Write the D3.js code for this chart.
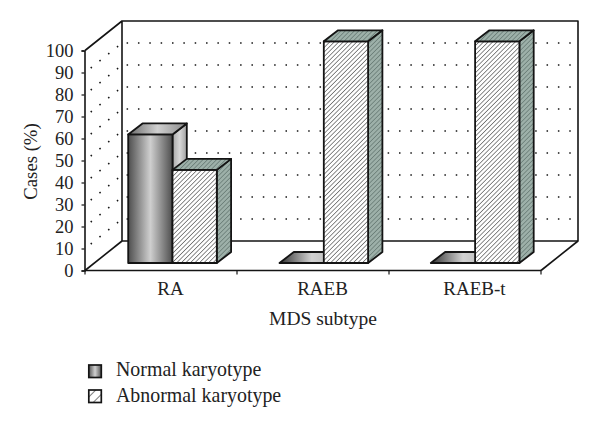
<!DOCTYPE html>
<html>
<head>
<meta charset="utf-8">
<script src="https://cdn.jsdelivr.net/npm/d3@7"></script>
<style>
body { margin: 0; background: #fff; }
text { font-family: "Liberation Serif", serif; fill: #222; }
</style>
</head>
<body>
<div id="chart"></div>
<script>
var categories = ["RA", "RAEB", "RAEB-t"];
var seriesNames = ["Normal karyotype", "Abnormal karyotype"];
var normalValues = [58, 0, 0];
var abnormalValues = [42, 100, 100];
var yTicks = [0, 10, 20, 30, 40, 50, 60, 70, 80, 90, 100];
var yTitle = "Cases (%)";
var xTitle = "MDS subtype";

var width = 600, height = 429;
var ink = "#141414";

// 奥行き
var depthX = 37, depthY = -29.5;
var barDepthX = 14.3, barDepthY = -11;
var barW = 44.3;

var svg = d3.select("#chart").append("svg")
	.attr("width", width)
	.attr("height", height);

var defs = svg.append("defs");

function gradient(id, stops) {
	var g = defs.append("linearGradient").attr("id", id)
		.attr("x1", 0).attr("x2", 1).attr("y1", 0).attr("y2", 0);
	stops.forEach(function(s) {
		g.append("stop").attr("offset", s[0]).attr("stop-color", s[1]);
	});
}
gradient("frontGrad", [[0, "#4e4e4e"], [0.5, "#cfcfcf"], [1, "#4e4e4e"]]);
gradient("topGrad", [[0, "#6a6a6a"], [0.5, "#d0d0d0"], [1, "#8a8a8a"]]);
gradient("sideGrad", [[0, "#a8a8a8"], [0.5, "#d8d8d8"], [1, "#a0a0a0"]]);
gradient("flatGrad", [[0, "#333"], [0.55, "#d2d2d2"], [1, "#b5b5b5"]]);
gradient("legendGrad", [[0, "#555"], [0.5, "#d0d0d0"], [1, "#555"]]);

function hatch(id, bg, fg, size, sw) {
	var p = defs.append("pattern").attr("id", id)
		.attr("patternUnits", "userSpaceOnUse")
		.attr("width", size).attr("height", size)
		.attr("patternTransform", "rotate(45)");
	p.append("rect").attr("width", size).attr("height", size).attr("fill", bg);
	p.append("line").attr("x1", 0).attr("x2", 0).attr("y1", 0).attr("y2", size)
		.attr("stroke", fg).attr("stroke-width", sw);
}
hatch("frontHatch", "#fff", "#666", 3.2, 1.5);
hatch("sideHatch", "#9db0a9", "#5f736c", 3.2, 1.3);
hatch("legendHatch", "#fff", "#222", 7, 1.2);

var y = d3.scaleLinear().domain([0, 100]).range([270.5, 50.5]);
var x0 = d3.scaleBand().domain(categories).range([85, 541]);
// 棒は軸の目盛より少し狭い間隔で並ぶ
var xBars = d3.scaleBand().domain(categories).range([128.2, 128.2 + 151.3 * 3]);
// 棒の高さは床の少し手前から測る
var barBase = 263;
var barY = d3.scaleLinear().domain([0, 100]).range([barBase, 41.3]);

var line = d3.line();

// 奥の壁と床
var back = function(px, py) { return [px + depthX, py + depthY]; };
var x1 = x0.range()[0], x2 = x0.range()[1];
var wall = svg.append("g").attr("fill", "none").attr("stroke", ink).attr("stroke-width", 1.6)
	.attr("stroke-linejoin", "round");
wall.append("path").attr("d", line([[x1, y(100)], back(x1, y(100)), back(x2, y(100)), back(x2, y(0)), back(x1, y(0)), back(x1, y(100))]));
wall.append("path").attr("d", line([[x1, y(0)], back(x1, y(0))]));
wall.append("path").attr("d", line([[x2, y(0)], back(x2, y(0))]));

// 点線のグリッド
var gridVals = yTicks.filter(function(d) { return d > 0 && d < 100; });
var grid = svg.append("g").attr("fill", "none").attr("stroke", ink)
	.attr("stroke-width", 1.6);
gridVals.forEach(function(v) {
	grid.append("path").attr("stroke-dasharray", "1.5 9.85")
		.attr("d", line([back(x1 + 4.6, y(v)), back(x2, y(v))]));
	grid.append("path").attr("stroke-dasharray", "1.5 9.7")
		.attr("d", line([[x1 + 5.7, y(v) - 4.5], back(x1, y(v))]));
});

// 棒
function drawBar(left, val, kind) {
	var top = barY(val), right = left + barW;
	var g = svg.append("g").attr("stroke", ink).attr("stroke-width", 1.8).attr("stroke-linejoin", "round");
	var frontFill = kind == 0 ? "url(#frontGrad)" : "url(#frontHatch)";
	var topFill = kind == 0 ? (val == 0 ? "url(#flatGrad)" : "url(#topGrad)") : "url(#sideHatch)";
	var sideFill = kind == 0 ? "url(#sideGrad)" : "url(#sideHatch)";
	if (val > 0) {
		g.append("path").attr("fill", sideFill).attr("d", line([
			[right, top], [right + barDepthX, top + barDepthY], [right + barDepthX, barBase + barDepthY], [right, barBase]
		]) + "Z");
		g.append("path").attr("fill", frontFill).attr("d", line([
			[left, top], [right, top], [right, barBase], [left, barBase]
		]) + "Z");
	}
	g.append("path").attr("fill", topFill).attr("d", line([
		[left, top], [left + barDepthX, top + barDepthY], [right + barDepthX, top + barDepthY], [right, top]
	]) + "Z");
}

categories.forEach(function(c, i) {
	var left = xBars(c);
	drawBar(left, normalValues[i], 0);
	drawBar(left + barW, abnormalValues[i], 1);
});

// 軸
var yAxis = d3.axisLeft(y).tickValues(yTicks).tickSize(3).tickPadding(8);
var yG = svg.append("g").attr("transform", "translate(84.5,0)").call(yAxis);
yG.selectAll("text").style("font-size", "18.5px").attr("dy", "0.33em");
yG.selectAll(".domain").attr("stroke", ink).attr("stroke-width", 1.6);
yG.selectAll("line").attr("stroke", ink).attr("stroke-width", 1.2);

var xAxis = d3.axisBottom(x0).tickSize(0).tickPadding(11);
var xG = svg.append("g").attr("transform", "translate(9.5," + y(0) + ")").call(xAxis);
xG.select(".domain").remove();
xG.selectAll("text").style("font-size", "19px").attr("dy", "0.71em");
var xLine = svg.append("g").attr("stroke", ink);
xLine.append("path").attr("fill", "none").attr("stroke-width", 1.6).attr("d", line([[x1, y(0)], [x2, y(0)]]));
categories.concat([null]).forEach(function(c) {
	var px = c == null ? x2 : x0(c);
	xLine.append("line").attr("x1", px).attr("x2", px).attr("y1", y(0)).attr("y2", y(0) + 4).attr("stroke-width", 1.2);
});

svg.append("text").attr("x", 323).attr("y", 325).attr("text-anchor", "middle")
	.style("font-size", "19.5px").text(xTitle);
svg.append("text").attr("transform", "translate(36.5,161.5) rotate(-90)").attr("text-anchor", "middle")
	.style("font-size", "18.7px").text(yTitle);

// 凡例
var legendFill = ["url(#legendGrad)", "url(#legendHatch)"];
var legendY = [365, 390];
var legendBase = [376, 402];
seriesNames.forEach(function(name, i) {
	svg.append("rect").attr("x", 88.8).attr("y", legendY[i]).attr("width", 12.5).attr("height", 12.5)
		.attr("fill", legendFill[i]).attr("stroke", ink).attr("stroke-width", 1.7);
	svg.append("text").attr("x", 116).attr("y", legendBase[i])
		.style("font-size", "19.9px").text(name);
});
</script>
</body>
</html>
